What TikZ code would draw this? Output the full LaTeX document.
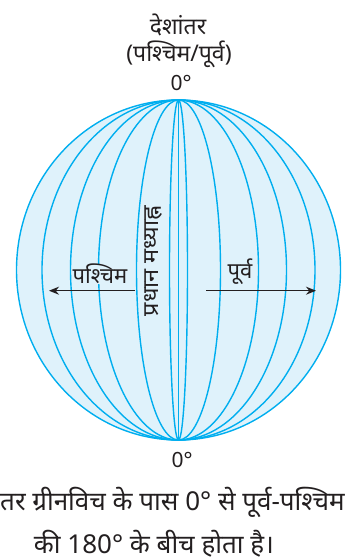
\documentclass[tikz,border=0pt]{standalone}
\usepackage{fontspec}
\usepackage{graphicx}
\newfontfamily\dev[Script=Devanagari]{Noto Sans}
\usetikzlibrary{arrows.meta}
\definecolor{mline}{RGB}{0,174,239}
\definecolor{mfill}{RGB}{223,242,251}
\definecolor{ink}{RGB}{35,31,32}
\begin{document}
\begin{tikzpicture}[x=1pt,y=1pt,
  meridian/.style={draw=mline, line width=1.4pt},
  lbl/.style={font=\dev\fontsize{22}{26}\selectfont, text=ink, inner sep=0.5pt},
  head/.style={font=\dev\fontsize{23}{27}\selectfont, text=ink, inner sep=0pt},
  deg/.style={font=\dev\fontsize{21}{25}\selectfont, text=ink, inner sep=0pt},
  captxt/.style={font=\dev\fontsize{26}{30}\selectfont, text=ink, inner sep=0pt},
  arr/.style={draw=ink, line width=1.4pt, -{Stealth[length=10pt,width=8pt]}}]
\useasboundingbox (0,0) rectangle (347,-560);
\coordinate (c) at (178.5,-270);
\fill[mfill] (c) ellipse [x radius=162, y radius=170];
\foreach \a in {136.5,108,80,42,9}{
  \draw[meridian] (c) ellipse [x radius=\a, y radius=170];
}
\coordinate (np) at (178.5,-100);
\coordinate (sp) at (178.5,-440);
\draw[meridian] (np) -- (sp);
\draw[meridian] (c) ellipse [x radius=162, y radius=170];
% labels
\node[head] (t1) at (178,-25) {देशांतर};
\node[head] (t2) at (179,-54) {(पश्चिम/पूर्व)};
\node[deg] (t3) at (181,-83) {0°};
\node[deg] (b0) at (182,-460) {0°};
\node[lbl, fill=mfill] (west) at (100,-274) {पश्चिम};
\node[lbl, fill=mfill] (east) at (240,-272) {पूर्व};
\node[lbl, rotate=90] (pm) at (153,-261) {\scalebox{1.07}[1]{प्रधान मध्याह्न}};
\coordinate (ws) at (135,-290.7);
\coordinate (we) at (49,-290.7);
\coordinate (es) at (206,-290.7);
\coordinate (ee) at (316,-290.7);
\draw[arr] (ws) -- (we);
\draw[arr] (es) -- (ee);
\node[captxt, anchor=west] (c1) at (0,-502) {तर ग्रीनविच के पास 0° से पूर्व-पश्चिम};
\node[captxt] (c2) at (154,-544) {की 180° के बीच होता है।};
\end{tikzpicture}
\end{document}
